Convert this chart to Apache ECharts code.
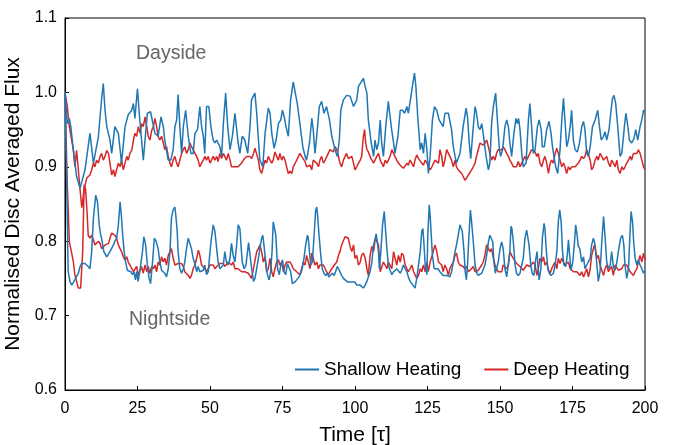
<!DOCTYPE html>
<html>
<head>
<meta charset="UTF-8">
<title>Disc averaged flux</title>
<script src="https://cdn.jsdelivr.net/npm/echarts@6/dist/echarts.min.js"></script>
<style>
  html, body { margin: 0; padding: 0; background: #fff; }
  #main { width: 673px; height: 445px; }
</style>
</head>
<body>
<div id="main"></div>
<script>
// time axis ticks
const xTicks = [0, 25, 50, 75, 100, 125, 150, 175, 200];
const yTicks = [0.6, 0.7, 0.8, 0.9, 1.0, 1.1];

// Shallow heating, dayside  [time, flux]
const shallowDay = [
  [0,1.0],[0.8,0.958],[1.5,0.965],[2.0,0.954],[2.9,0.922],[4.0,0.887],[5.2,0.871],[6.9,0.896],[8.6,0.945],[9.8,0.905],
  [11.5,0.94],[12.6,0.99],[13.2,1.012],[13.8,0.976],[14.4,0.954],[15.5,0.936],[16.1,0.918],[17.2,0.954],[18.4,0.945],[19.5,0.905],
  [20.7,0.954],[21.8,0.97],[23.0,0.976],[23.6,0.985],[24.1,0.965],[25.0,1.005],[25.6,0.972],[26.4,0.936],[27.0,0.909],[28.4,0.972],
  [29.5,0.974],[31.0,0.945],[32.1,0.941],[33.1,0.967],[33.9,0.954],[34.4,0.936],[35.6,0.909],[36.5,0.909],[37.3,0.923],[37.9,0.954],
  [38.5,0.963],[39.0,0.997],[39.6,0.954],[40.2,0.918],[40.8,0.954],[41.6,0.976],[42.5,0.941],[43.4,0.918],[44.2,0.918],[44.8,0.945],
  [45.7,0.950],[46.5,0.981],[47.1,0.954],[47.7,0.941],[48.2,0.918],[48.8,0.981],[49.6,0.981],[50.3,0.954],[51.1,0.936],[51.7,0.932],
  [52.3,0.936],[53.4,0.927],[54.0,0.914],[54.6,0.958],[55.4,0.999],[56.1,0.954],[56.9,0.923],[57.7,0.941],[58.6,0.972],[59.7,0.932],
  [60.3,0.918],[61.1,0.941],[62.0,0.936],[63.0,0.918],[63.8,0.954],[64.3,0.99],[65.5,0.999],[66.1,0.972],[66.7,0.936],[67.2,0.909],
  [68.2,0.900],[69.0,0.945],[70.1,0.979],[70.7,0.972],[71.3,0.945],[72.1,0.925],[72.8,0.936],[73.6,0.958],[74.4,0.963],[75.0,0.976],
  [75.6,0.967],[76.2,0.954],[77.0,0.941],[77.8,0.990],[78.7,1.014],[79.3,1.012],[80.1,0.985],[81.0,0.958],[82.0,0.927],[82.8,0.914],
  [83.3,0.909],[84.3,0.932],[85.1,0.965],[85.6,0.950],[86.2,0.918],[86.8,0.941],[87.7,0.981],[88.5,0.988],[89.3,0.972],[90.2,0.981],
  [91.2,0.963],[92.0,0.941],[93.1,0.923],[93.9,0.914],[94.6,0.936],[95.1,0.976],[96.0,0.990],[97.1,0.996],[98.3,0.995],[99.5,0.981],
  [100.6,0.990],[101.2,1.008],[102.9,1.019],[103.5,1.008],[104.1,0.999],[104.6,0.963],[105.6,0.932],[106.4,0.914],[106.9,0.936],[107.5,0.923],
  [108.1,0.932],[108.7,0.963],[109.2,0.932],[109.8,0.914],[110.6,0.954],[111.5,0.988],[112.5,0.954],[113.3,0.932],[113.8,0.918],[114.8,0.941],
  [115.6,0.976],[116.4,0.976],[117.1,0.972],[117.9,0.981],[118.4,0.972],[119.1,0.990],[119.8,1.008],[120.5,1.026],[121.0,1.008],[121.7,0.963],
  [122.5,0.923],[123.0,0.932],[123.6,0.918],[124.2,0.945],[124.8,0.923],[125.3,0.891],[125.9,0.914],[126.7,0.963],[127.4,0.981],[128.2,0.976],
  [129.0,0.963],[130.4,0.954],[131.0,0.972],[132.2,0.972],[132.7,0.974],[133.3,0.950],[133.9,0.927],[134.5,0.914],[135.0,0.905],[136.2,0.918],
  [137.3,0.954],[138.3,0.979],[138.8,0.967],[139.4,0.932],[139.9,0.911],[140.6,0.945],[141.4,0.981],[141.9,0.972],[142.5,0.954],[143.1,0.950],
  [143.7,0.958],[144.2,0.945],[145.2,0.914],[146.0,0.896],[146.5,0.905],[147.1,0.958],[147.7,0.981],[148.5,0.999],[149.1,0.963],[149.8,0.923],
  [150.2,0.914],[150.9,0.923],[151.7,0.954],[152.3,0.963],[152.9,0.954],[153.4,0.932],[154.0,0.914],[154.8,0.945],[155.5,0.965],[156.0,0.958],
  [156.4,0.965],[156.9,0.950],[157.5,0.918],[158.0,0.900],[159.0,0.905],[159.8,0.963],[160.3,0.985],[160.9,0.954],[161.5,0.918],[162.1,0.923],
  [162.9,0.954],[163.5,0.963],[164.2,0.950],[164.6,0.927],[165.3,0.927],[166.1,0.950],[166.9,0.961],[167.6,0.945],[168.1,0.927],[168.8,0.909],
  [169.2,0.900],[169.9,0.891],[170.7,0.923],[171.3,0.963],[171.9,0.992],[172.4,0.963],[173.0,0.927],[173.6,0.936],[174.2,0.954],[174.7,0.976],
  [175.3,0.936],[175.9,0.923],[176.7,0.920],[177.4,0.932],[178.2,0.954],[178.8,0.961],[179.3,0.950],[179.9,0.918],[180.5,0.914],[181.1,0.927],
  [181.9,0.954],[182.8,0.963],[183.7,0.976],[184.3,0.954],[184.9,0.936],[185.7,0.941],[186.2,0.947],[186.8,0.936],[187.6,0.950],[188.3,0.976],
  [188.8,0.992],[189.3,0.996],[189.9,0.985],[190.6,0.954],[191.4,0.914],[192.0,0.918],[192.9,0.954],[193.4,0.972],[194.1,0.954],[194.6,0.936],
  [195.4,0.932],[196.2,0.938],[196.8,0.950],[197.5,0.936],[198.3,0.954],[198.9,0.963],[199.5,0.976],[200.0,0.974]
];

// Shallow heating, nightside
const shallowNight = [
  [0,1.0],[0.6,0.876],[1.1,0.759],[1.7,0.746],[2.3,0.741],[2.9,0.743],[3.4,0.748],[4.0,0.750],[4.6,0.757],[5.2,0.766],
  [5.7,0.770],[6.3,0.772],[6.9,0.770],[7.5,0.770],[8.0,0.766],[8.6,0.763],[9.2,0.786],[9.8,0.831],[10.6,0.862],[11.2,0.853],
  [11.8,0.822],[12.3,0.808],[12.6,0.804],[13.0,0.795],[13.4,0.786],[13.8,0.786],[14.4,0.779],[15.0,0.781],[15.5,0.786],[16.1,0.786],
  [16.7,0.795],[17.2,0.800],[17.8,0.804],[18.4,0.822],[19.0,0.853],[19.5,0.831],[19.9,0.808],[20.4,0.786],[20.9,0.772],[21.5,0.761],
  [22.1,0.763],[22.7,0.759],[23.3,0.755],[23.8,0.759],[24.3,0.748],[24.7,0.759],[25.2,0.746],[25.6,0.755],[26.1,0.768],[26.7,0.786],
  [27.2,0.806],[27.8,0.795],[28.4,0.768],[29.0,0.750],[29.5,0.743],[30.1,0.768],[30.8,0.804],[31.4,0.800],[32.1,0.790],[32.7,0.772],
  [33.3,0.761],[33.9,0.759],[34.4,0.757],[35.0,0.752],[35.6,0.763],[36.2,0.786],[36.7,0.831],[37.3,0.842],[37.9,0.846],[38.2,0.835],
  [38.7,0.813],[39.0,0.786],[39.6,0.763],[40.2,0.757],[40.8,0.763],[41.3,0.772],[41.9,0.790],[42.5,0.804],[43.1,0.802],[43.6,0.790],
  [44.2,0.777],[44.8,0.770],[45.4,0.759],[45.9,0.766],[46.5,0.759],[47.1,0.757],[47.7,0.761],[48.2,0.768],[48.8,0.755],[49.4,0.759],
  [50.0,0.786],[50.5,0.804],[51.1,0.822],[51.7,0.813],[52.3,0.790],[52.8,0.772],[53.4,0.763],[54.0,0.761],[54.6,0.768],[55.1,0.786],
  [55.7,0.772],[56.3,0.768],[56.9,0.777],[57.4,0.797],[58.0,0.781],[58.6,0.772],[59.2,0.795],[59.7,0.822],[60.3,0.817],[60.7,0.795],
  [61.1,0.772],[61.8,0.763],[62.4,0.768],[63.3,0.798],[64.3,0.765],[65.0,0.746],[65.5,0.750],[66.1,0.763],[66.7,0.777],[67.2,0.790],
  [67.8,0.804],[68.2,0.808],[68.6,0.795],[69.2,0.772],[69.8,0.755],[70.4,0.748],[70.9,0.759],[71.4,0.786],[71.8,0.826],[72.2,0.827],
  [72.7,0.808],[73.0,0.786],[73.3,0.763],[73.9,0.755],[74.4,0.768],[75.0,0.775],[75.5,0.759],[76.1,0.755],[76.7,0.770],[77.3,0.772],
  [77.8,0.759],[78.4,0.743],[79.0,0.741],[79.5,0.746],[80.1,0.748],[80.7,0.752],[81.3,0.757],[81.8,0.763],[82.4,0.777],[83.0,0.795],
  [83.6,0.808],[83.9,0.804],[84.3,0.786],[84.7,0.768],[85.3,0.772],[85.9,0.808],[86.4,0.840],[86.8,0.846],[87.1,0.835],[87.6,0.808],
  [88.2,0.781],[88.7,0.763],[89.3,0.757],[89.9,0.754],[90.5,0.757],[91.0,0.752],[91.6,0.750],[92.2,0.757],[92.8,0.754],[93.3,0.759],
  [93.9,0.766],[94.3,0.768],[94.8,0.759],[95.4,0.754],[96.0,0.750],[96.6,0.748],[97.5,0.745],[98.9,0.745],[99.5,0.743],[100.0,0.745],
  [100.6,0.741],[101.2,0.739],[101.8,0.741],[102.3,0.739],[102.9,0.737],[103.5,0.741],[104.1,0.746],[104.6,0.752],[105.2,0.759],[105.8,0.772],
  [106.4,0.795],[107.0,0.804],[107.3,0.810],[107.7,0.799],[108.1,0.786],[108.4,0.763],[108.9,0.786],[109.5,0.822],[110.1,0.840],[110.4,0.822],
  [111.0,0.790],[111.5,0.768],[112.1,0.761],[112.7,0.755],[113.3,0.759],[113.8,0.757],[114.4,0.763],[115.0,0.761],[115.6,0.757],[116.1,0.761],
  [116.7,0.768],[117.3,0.763],[117.9,0.759],[118.4,0.752],[119.0,0.746],[119.6,0.743],[120.2,0.741],[120.7,0.737],[121.3,0.750],[121.9,0.768],
  [122.5,0.786],[123.0,0.813],[123.4,0.817],[123.8,0.795],[124.2,0.768],[124.8,0.755],[125.1,0.808],[125.6,0.849],[125.9,0.835],[126.3,0.808],
  [126.7,0.781],[127.3,0.763],[127.9,0.761],[128.6,0.763],[129.3,0.759],[130.4,0.754],[131.6,0.754],[132.7,0.752],[133.3,0.759],[133.9,0.772],
  [134.5,0.786],[135.0,0.795],[135.6,0.808],[136.2,0.822],[136.5,0.824],[137.0,0.813],[137.6,0.786],[138.0,0.759],[138.4,0.748],[138.8,0.768],
  [139.3,0.808],[139.8,0.842],[140.2,0.826],[140.8,0.799],[141.4,0.768],[142.0,0.757],[142.5,0.754],[143.1,0.754],[143.7,0.757],[144.2,0.759],
  [144.8,0.768],[145.4,0.781],[146.0,0.799],[146.5,0.808],[147.1,0.810],[147.5,0.799],[147.9,0.772],[148.4,0.757],[148.8,0.759],[149.4,0.772],
  [150.0,0.790],[150.6,0.799],[151.1,0.790],[151.7,0.763],[152.3,0.752],[152.9,0.754],[153.4,0.786],[153.8,0.820],[154.1,0.817],[154.6,0.799],
  [155.2,0.768],[155.7,0.757],[156.3,0.754],[156.9,0.757],[157.5,0.759],[158.0,0.777],[158.6,0.804],[159.2,0.815],[159.5,0.813],[160.0,0.795],
  [160.6,0.768],[161.1,0.757],[161.7,0.754],[162.3,0.775],[162.8,0.786],[163.1,0.765],[163.5,0.748],[164.1,0.763],[164.6,0.804],[165.2,0.824],
  [165.5,0.817],[166.0,0.786],[166.5,0.763],[167.0,0.757],[167.6,0.754],[168.4,0.757],[169.0,0.768],[169.6,0.786],[170.1,0.826],[170.6,0.842],
  [171.1,0.826],[171.5,0.790],[172.0,0.768],[172.7,0.766],[173.2,0.781],[173.6,0.802],[174.1,0.777],[174.5,0.761],[175.1,0.772],[175.7,0.799],
  [176.1,0.822],[176.6,0.808],[177.0,0.793],[177.5,0.790],[178.2,0.772],[178.8,0.779],[179.3,0.763],[179.9,0.768],[180.5,0.766],[181.1,0.777],
  [181.6,0.795],[182.2,0.804],[182.8,0.795],[183.4,0.768],[183.9,0.746],[184.5,0.759],[185.1,0.799],[185.7,0.833],[186.2,0.808],[186.8,0.772],
  [187.4,0.763],[188.0,0.768],[188.5,0.786],[189.1,0.766],[189.7,0.761],[190.3,0.772],[190.8,0.786],[191.6,0.804],[192.2,0.808],[192.7,0.795],
  [193.1,0.768],[193.7,0.750],[194.3,0.763],[194.8,0.808],[195.2,0.840],[195.7,0.826],[196.1,0.799],[196.6,0.777],[197.2,0.768],[197.7,0.775],
  [198.3,0.768],[198.9,0.763],[199.5,0.757],[200.0,0.761]
];

// Deep heating, dayside
const deepDay = [
  [0,1.0],[0.8,0.981],[1.5,0.954],[2.3,0.936],[2.9,0.922],[3.4,0.900],[4.0,0.922],[4.6,0.896],[5.2,0.869],[5.8,0.845],
  [6.6,0.870],[7.5,0.885],[8.6,0.889],[9.2,0.896],[9.8,0.905],[10.3,0.900],[10.9,0.909],[11.5,0.905],[12.1,0.914],[12.6,0.918],
  [13.2,0.909],[13.8,0.914],[14.4,0.922],[15.0,0.918],[15.5,0.905],[16.1,0.889],[16.7,0.896],[17.2,0.887],[17.8,0.896],[18.4,0.905],
  [19.0,0.900],[19.5,0.909],[20.1,0.896],[20.7,0.905],[21.3,0.914],[21.8,0.909],[22.4,0.918],[23.0,0.922],[23.6,0.936],[24.1,0.945],
  [24.7,0.941],[25.3,0.954],[25.9,0.945],[26.4,0.958],[27.0,0.954],[27.6,0.967],[28.2,0.954],[28.7,0.941],[29.3,0.936],[29.9,0.949],
  [30.5,0.954],[31.0,0.965],[31.6,0.954],[32.1,0.941],[32.7,0.936],[33.3,0.941],[33.9,0.932],[34.4,0.923],[35.0,0.927],[35.6,0.914],
  [36.2,0.905],[36.7,0.900],[37.3,0.909],[37.9,0.914],[38.5,0.905],[39.0,0.900],[39.6,0.909],[40.2,0.918],[40.8,0.923],[41.3,0.927],
  [41.9,0.918],[42.5,0.923],[43.1,0.932],[43.6,0.927],[44.2,0.923],[44.8,0.918],[45.4,0.914],[45.9,0.909],[46.5,0.900],[47.1,0.905],
  [47.7,0.909],[48.2,0.914],[48.8,0.909],[49.4,0.914],[50.0,0.905],[50.5,0.909],[51.1,0.914],[51.7,0.909],[52.3,0.914],[52.8,0.907],
  [53.4,0.918],[54.0,0.911],[54.6,0.918],[55.1,0.914],[55.7,0.909],[56.3,0.918],[56.9,0.909],[57.4,0.900],[58.0,0.898],[58.6,0.900],
  [59.2,0.902],[59.7,0.900],[60.3,0.902],[60.9,0.905],[61.5,0.909],[62.0,0.909],[62.6,0.914],[63.2,0.916],[63.8,0.914],[64.4,0.911],
  [65.0,0.918],[65.5,0.925],[66.1,0.923],[66.7,0.909],[67.2,0.896],[67.8,0.891],[68.4,0.900],[69.0,0.909],[69.5,0.905],[70.1,0.914],
  [70.7,0.909],[71.3,0.905],[71.8,0.909],[72.4,0.920],[73.0,0.914],[73.6,0.909],[74.1,0.918],[74.7,0.909],[75.3,0.914],[75.9,0.909],
  [76.4,0.900],[77.0,0.891],[77.6,0.894],[78.2,0.891],[78.7,0.900],[79.3,0.902],[79.9,0.909],[80.5,0.914],[81.0,0.918],[81.6,0.914],
  [82.2,0.916],[82.8,0.907],[83.3,0.900],[83.9,0.898],[84.5,0.902],[85.1,0.896],[85.6,0.909],[86.2,0.909],[86.8,0.905],[87.4,0.900],
  [87.9,0.909],[88.5,0.914],[89.1,0.905],[89.7,0.909],[90.2,0.911],[90.8,0.918],[91.4,0.923],[92.0,0.925],[92.5,0.920],[93.1,0.927],
  [93.7,0.923],[94.3,0.914],[94.8,0.905],[95.4,0.900],[96.0,0.909],[96.6,0.914],[97.1,0.918],[97.7,0.911],[98.3,0.909],[98.9,0.914],
  [99.5,0.905],[100.0,0.896],[100.6,0.900],[101.2,0.905],[101.8,0.909],[102.3,0.914],[102.9,0.941],[103.3,0.950],[103.7,0.932],[104.1,0.923],
  [104.6,0.920],[105.2,0.914],[105.8,0.909],[106.4,0.905],[106.9,0.909],[107.5,0.914],[108.1,0.918],[108.7,0.909],[109.2,0.905],[109.8,0.900],
  [110.4,0.909],[111.0,0.905],[111.5,0.909],[112.1,0.914],[112.7,0.923],[113.3,0.918],[113.8,0.918],[114.4,0.909],[115.0,0.905],[115.6,0.902],
  [116.1,0.900],[116.7,0.898],[117.3,0.900],[117.9,0.905],[118.4,0.902],[119.0,0.909],[119.6,0.905],[120.2,0.900],[120.7,0.909],[121.3,0.916],
  [121.9,0.911],[122.5,0.909],[123.0,0.905],[123.6,0.902],[124.2,0.909],[124.8,0.905],[125.3,0.900],[125.9,0.896],[126.5,0.900],[127.1,0.905],
  [127.6,0.909],[128.2,0.907],[128.8,0.905],[129.3,0.923],[129.9,0.914],[130.4,0.900],[131.0,0.909],[131.6,0.923],[132.2,0.925],[132.7,0.914],
  [133.3,0.909],[133.9,0.900],[134.5,0.909],[135.0,0.900],[135.6,0.896],[136.2,0.894],[136.8,0.891],[137.3,0.887],[137.9,0.882],[138.5,0.885],
  [139.1,0.889],[139.6,0.891],[140.2,0.896],[140.8,0.900],[141.4,0.905],[141.9,0.914],[142.5,0.923],[143.1,0.932],[143.7,0.934],[144.2,0.929],
  [144.8,0.932],[145.4,0.936],[146.0,0.927],[146.5,0.918],[147.1,0.909],[147.7,0.914],[148.3,0.909],[148.8,0.918],[149.4,0.923],[150.0,0.925],
  [150.6,0.923],[151.1,0.927],[151.7,0.923],[152.3,0.918],[152.9,0.914],[153.4,0.909],[154.0,0.905],[154.6,0.900],[155.2,0.902],[155.7,0.900],
  [156.3,0.907],[156.9,0.900],[157.5,0.905],[158.0,0.909],[158.6,0.914],[159.2,0.909],[159.8,0.914],[160.3,0.918],[160.9,0.923],[161.5,0.925],
  [162.1,0.920],[162.7,0.914],[163.2,0.918],[163.8,0.905],[164.4,0.900],[165.0,0.909],[165.5,0.914],[166.1,0.905],[166.7,0.891],[167.3,0.905],
  [167.8,0.909],[168.4,0.905],[169.0,0.918],[169.6,0.925],[170.1,0.918],[170.7,0.909],[171.3,0.900],[171.9,0.905],[172.4,0.900],[173.0,0.891],
  [173.6,0.900],[174.2,0.896],[174.7,0.900],[175.3,0.898],[175.9,0.900],[176.5,0.902],[177.0,0.905],[177.6,0.909],[178.2,0.914],[178.8,0.911],
  [179.3,0.914],[179.9,0.923],[180.5,0.925],[181.1,0.909],[181.6,0.896],[182.2,0.900],[182.8,0.909],[183.4,0.914],[183.9,0.909],[184.5,0.918],
  [185.1,0.914],[185.7,0.909],[186.2,0.909],[186.8,0.914],[187.4,0.905],[188.0,0.900],[188.5,0.909],[189.1,0.905],[189.7,0.900],[190.3,0.909],
  [190.8,0.896],[191.4,0.891],[192.0,0.900],[192.6,0.896],[193.1,0.900],[193.7,0.905],[194.3,0.909],[194.9,0.914],[195.4,0.909],[196.0,0.918],
  [196.6,0.920],[197.2,0.918],[197.7,0.923],[198.3,0.918],[198.9,0.909],[199.5,0.900],[200.0,0.896]
];

// Deep heating, nightside
const deepNight = [
  [0,1.0],[0.8,0.876],[1.5,0.799],[2.0,0.790],[2.9,0.772],[3.4,0.755],[4.0,0.746],[4.6,0.737],[5.4,0.737],[6.1,0.786],
  [6.6,0.876],[7.1,0.870],[7.6,0.840],[8.0,0.808],[8.6,0.804],[9.2,0.808],[9.8,0.802],[10.3,0.795],[10.9,0.797],[11.5,0.800],
  [12.1,0.797],[12.6,0.790],[13.2,0.790],[13.8,0.795],[14.4,0.793],[15.0,0.797],[15.5,0.804],[16.1,0.811],[16.7,0.813],[17.2,0.808],
  [17.8,0.804],[18.4,0.795],[19.0,0.790],[19.5,0.786],[20.1,0.779],[20.7,0.775],[21.3,0.779],[21.8,0.772],[22.4,0.768],[23.0,0.770],
  [23.6,0.759],[24.1,0.757],[24.7,0.766],[25.3,0.754],[25.9,0.761],[26.4,0.766],[27.0,0.757],[27.6,0.768],[28.2,0.759],[28.7,0.766],
  [29.3,0.757],[29.9,0.766],[30.5,0.763],[31.0,0.768],[31.6,0.759],[32.1,0.772],[32.7,0.768],[33.3,0.779],[33.9,0.772],[34.4,0.777],
  [35.0,0.768],[35.6,0.781],[36.2,0.786],[36.7,0.790],[37.3,0.777],[37.9,0.768],[38.5,0.768],[39.0,0.770],[39.6,0.768],[40.2,0.770],
  [40.8,0.766],[41.3,0.759],[41.9,0.757],[42.5,0.754],[43.1,0.750],[43.6,0.754],[44.2,0.763],[44.8,0.768],[45.4,0.777],[46.0,0.788],
  [46.5,0.781],[47.1,0.768],[47.7,0.770],[48.2,0.763],[48.8,0.759],[49.4,0.763],[50.0,0.768],[50.5,0.770],[51.1,0.768],[51.7,0.763],
  [52.3,0.766],[52.8,0.768],[53.4,0.770],[54.0,0.768],[54.6,0.770],[55.1,0.766],[55.7,0.768],[56.3,0.772],[56.9,0.770],[57.4,0.768],
  [58.0,0.772],[58.6,0.763],[59.2,0.761],[59.7,0.763],[60.3,0.761],[60.9,0.759],[61.5,0.761],[62.0,0.759],[62.6,0.757],[63.2,0.757],
  [63.8,0.759],[64.3,0.750],[64.9,0.761],[65.5,0.763],[66.1,0.786],[66.7,0.790],[67.2,0.795],[67.8,0.786],[68.4,0.772],[69.0,0.779],
  [69.5,0.759],[70.1,0.763],[70.7,0.777],[71.3,0.759],[71.8,0.752],[72.4,0.763],[73.0,0.772],[73.6,0.775],[74.1,0.768],[74.7,0.772],
  [75.3,0.759],[75.9,0.768],[76.4,0.772],[77.0,0.770],[77.6,0.772],[78.2,0.768],[78.7,0.763],[79.3,0.761],[79.9,0.759],[80.5,0.757],
  [81.0,0.755],[81.6,0.763],[82.2,0.772],[82.8,0.768],[83.3,0.781],[83.9,0.772],[84.5,0.763],[85.1,0.784],[85.6,0.777],[86.2,0.768],
  [86.8,0.772],[87.4,0.763],[87.9,0.768],[88.5,0.770],[89.1,0.768],[89.7,0.763],[90.2,0.759],[90.8,0.755],[91.4,0.759],[92.0,0.763],
  [92.5,0.766],[93.1,0.768],[93.7,0.772],[94.3,0.781],[94.8,0.786],[95.4,0.795],[96.0,0.801],[96.6,0.806],[97.2,0.806],[97.7,0.804],
  [98.3,0.793],[98.9,0.786],[99.5,0.795],[100.0,0.777],[100.6,0.781],[101.2,0.768],[101.8,0.772],[102.3,0.781],[102.9,0.784],[103.5,0.777],
  [104.1,0.763],[104.6,0.754],[105.2,0.781],[105.8,0.793],[106.4,0.786],[107.0,0.804],[107.5,0.802],[108.1,0.795],[108.7,0.759],[109.2,0.759],
  [109.8,0.772],[110.4,0.768],[111.0,0.763],[111.5,0.772],[112.1,0.768],[112.7,0.763],[113.3,0.786],[113.8,0.777],[114.4,0.768],[115.0,0.781],
  [115.6,0.772],[116.1,0.784],[116.7,0.781],[117.3,0.768],[117.9,0.763],[118.4,0.759],[119.0,0.763],[119.6,0.768],[120.2,0.759],[120.7,0.757],
  [121.3,0.750],[121.9,0.754],[122.5,0.763],[123.0,0.759],[123.6,0.768],[124.2,0.759],[124.8,0.772],[125.3,0.759],[125.9,0.772],[126.5,0.779],
  [127.1,0.788],[127.6,0.795],[128.2,0.786],[128.8,0.772],[129.3,0.772],[129.9,0.768],[130.4,0.759],[131.0,0.768],[131.6,0.763],[132.2,0.754],
  [132.7,0.763],[133.3,0.768],[133.9,0.772],[134.5,0.781],[135.0,0.784],[135.6,0.772],[136.2,0.768],[136.8,0.770],[137.3,0.766],[137.9,0.763],
  [138.5,0.766],[139.1,0.759],[139.6,0.761],[140.2,0.763],[140.8,0.766],[141.4,0.759],[141.9,0.757],[142.5,0.761],[143.1,0.763],[143.7,0.768],
  [144.2,0.772],[144.8,0.781],[145.4,0.795],[146.0,0.790],[146.5,0.786],[147.1,0.790],[147.7,0.777],[148.3,0.768],[148.8,0.763],[149.4,0.759],
  [150.0,0.761],[150.6,0.759],[151.1,0.768],[151.7,0.766],[152.3,0.763],[152.9,0.768],[153.4,0.786],[154.0,0.781],[154.6,0.777],[155.2,0.779],
  [155.7,0.770],[156.3,0.768],[156.9,0.766],[157.5,0.768],[158.0,0.761],[158.6,0.759],[159.2,0.768],[159.8,0.770],[160.3,0.766],[160.9,0.768],
  [161.5,0.772],[162.1,0.768],[162.7,0.754],[163.2,0.763],[163.8,0.777],[164.4,0.772],[165.0,0.779],[165.5,0.768],[166.1,0.772],[166.7,0.761],
  [167.3,0.757],[167.8,0.763],[168.4,0.768],[169.0,0.772],[169.6,0.763],[170.1,0.777],[170.7,0.770],[171.3,0.777],[171.9,0.775],[172.4,0.768],
  [173.0,0.770],[173.6,0.772],[174.2,0.763],[174.7,0.761],[175.3,0.759],[175.9,0.760],[176.5,0.759],[177.0,0.757],[177.6,0.754],[178.2,0.759],
  [178.8,0.752],[179.3,0.754],[179.9,0.763],[180.5,0.752],[181.1,0.763],[181.6,0.781],[182.2,0.790],[182.6,0.795],[183.0,0.786],[183.5,0.777],
  [183.9,0.781],[184.5,0.768],[185.1,0.761],[185.7,0.754],[186.2,0.763],[186.8,0.768],[187.4,0.759],[188.0,0.763],[188.5,0.766],[189.1,0.754],
  [189.7,0.768],[190.3,0.770],[190.8,0.761],[191.4,0.759],[192.0,0.763],[192.6,0.768],[193.1,0.770],[193.7,0.768],[194.3,0.763],[194.9,0.759],
  [195.4,0.757],[196.0,0.754],[196.6,0.759],[197.2,0.763],[197.7,0.772],[198.3,0.781],[198.9,0.772],[199.5,0.784],[200.0,0.775]
];

const BLUE = '#1f77b4';
const RED = '#d62728';
const FONT = 'Liberation Sans, Arial, sans-serif';

let myChart = echarts.init(document.getElementById('main'), null, {renderer: 'canvas'});

function lineSeries(name, data, color, z){
	return {
		name: name,
		type: 'line',
		data: data,
		showSymbol: false,
		symbol: 'none',
		z: z,
		lineStyle: { color: color, width: 1.5 },
		itemStyle: { color: color },
		animation: false
	};
}

myChart.setOption({
	animation: false,
	grid: {
		left: 65, right: 28, top: 18, bottom: 55,
		containLabel: false,
		outerBoundsMode: 'none',
		show: true, borderColor: '#000', borderWidth: 1
	},
	xAxis: {
		type: 'value',
		min: 0, max: 200, interval: 25,
		name: 'Time [τ]',
		nameLocation: 'middle',
		nameGap: 35,
		nameTextStyle: { fontFamily: FONT, fontSize: 21, color: '#000' },
		axisLine: { lineStyle: { color: '#000', width: 1 } },
		axisTick: { inside: true, length: 4, lineStyle: { color: '#000' } },
		axisLabel: { fontFamily: FONT, fontSize: 16, color: '#000', margin: 11 },
		splitLine: { show: false }
	},
	yAxis: {
		type: 'value',
		min: 0.6, max: 1.1, interval: 0.1,
		name: 'Normalised Disc Averaged Flux',
		nameLocation: 'middle',
		nameGap: 37,
		nameTextStyle: { fontFamily: FONT, fontSize: 21, color: '#000' },
		axisLine: { show: true, lineStyle: { color: '#000', width: 1 } },
		axisTick: { show: true, inside: true, length: 4, lineStyle: { color: '#000' } },
		axisLabel: {
			fontFamily: FONT, fontSize: 16, color: '#000', margin: 8,
			formatter: function(v){ return v.toFixed(1); }
		},
		splitLine: { show: false }
	},
	legend: {
		data: ['Shallow Heating', 'Deep Heating'],
		left: 290, top: 355,
		icon: 'rect',
		itemWidth: 24, itemHeight: 2,
		itemGap: 23,
		textStyle: { fontFamily: FONT, fontSize: 19, color: '#000' }
	},
	graphic: [
		{ type: 'text', left: 136, top: 44, style: { text: 'Dayside', fontFamily: FONT, fontSize: 19.5, fill: '#666' } },
		{ type: 'text', left: 129, top: 310, style: { text: 'Nightside', fontFamily: FONT, fontSize: 19.5, fill: '#666' } }
	],
	series: [
		lineSeries('Shallow Heating', shallowDay, BLUE, 3),
		lineSeries('Shallow Heating', shallowNight, BLUE, 3),
		lineSeries('Deep Heating', deepDay, RED, 2),
		lineSeries('Deep Heating', deepNight, RED, 2)
	]
});
</script>
</body>
</html>
